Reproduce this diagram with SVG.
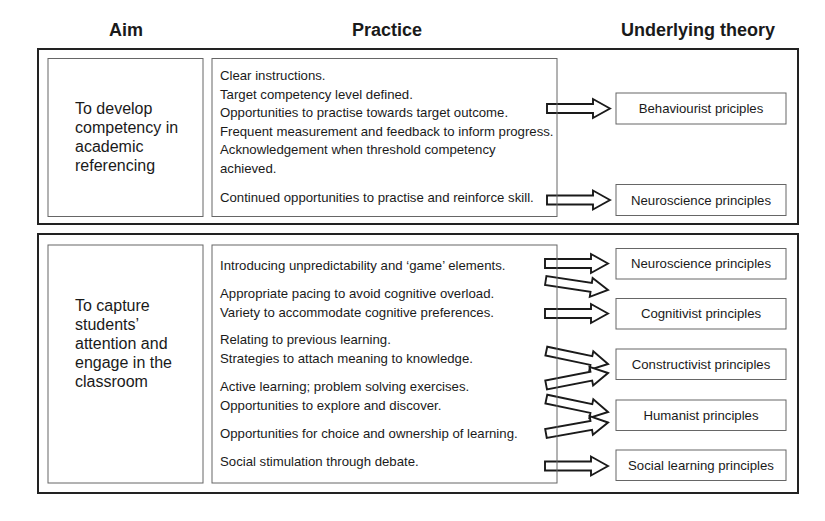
<svg xmlns="http://www.w3.org/2000/svg" xmlns:xlink="http://www.w3.org/1999/xlink" width="825" height="521" viewBox="0 0 825 521">
  <style>
    .hdr { font-family: "Liberation Sans", Arial, sans-serif; font-weight: bold; font-size: 18px; fill: #1a1a1a; text-anchor: middle; }
    .aim { font-family: "Liberation Sans", Arial, sans-serif; font-size: 16px; fill: #1a1a1a; }
    .txt { font-family: "Liberation Sans", Arial, sans-serif; font-size: 13.2px; fill: #1a1a1a; }
    .th  { font-family: "Liberation Sans", Arial, sans-serif; font-size: 13.2px; fill: #1a1a1a; text-anchor: middle; }
    .outer { fill: none; stroke: #222; stroke-width: 2; }
    .inner { fill: none; stroke: #666; stroke-width: 1; }
    .arrow { fill: #fff; stroke: #1a1a1a; stroke-width: 1.9; stroke-linejoin: miter; }
  </style>
  <defs>
    <!-- block arrow, tip at the origin, pointing along +x -->
    <path id="blockArrow" d="M0,0 L-17,-9.5 L-17,-4.5 L-63,-4.5 L-63,4.5 L-17,4.5 L-17,9.5 Z"/>
  </defs>

  <rect width="825" height="521" fill="#fff"/>

  <!-- column headings -->
  <g id="headings">
    <text class="hdr" x="126" y="36">Aim</text>
    <text class="hdr" x="387" y="36">Practice</text>
    <text class="hdr" x="698" y="36">Underlying theory</text>
  </g>

  <!-- connectors: block arrows from practice to theory -->
  <g id="connectors" class="arrow">
    <use xlink:href="#blockArrow" transform="translate(610,108.5)"/>
    <use xlink:href="#blockArrow" transform="translate(610,200)"/>

    <use xlink:href="#blockArrow" transform="translate(608,263.5)"/>
    <use xlink:href="#blockArrow" transform="translate(608,290) rotate(8.7)"/>
    <use xlink:href="#blockArrow" transform="translate(608,313.5)"/>
    <use xlink:href="#blockArrow" transform="translate(608,364) rotate(11.8)"/>
    <use xlink:href="#blockArrow" transform="translate(608,373) rotate(-10.9)"/>
    <use xlink:href="#blockArrow" transform="translate(608,412) rotate(11.8)"/>
    <use xlink:href="#blockArrow" transform="translate(608,422.5) rotate(-10)"/>
    <use xlink:href="#blockArrow" transform="translate(608,466)"/>
  </g>

  <!-- section 1: academic referencing -->
  <g id="section1">
    <rect class="outer" x="38" y="49" width="760" height="175"/>
  </g>
  <g id="aim1">
    <rect class="inner" x="48" y="58.5" width="155" height="158"/>
    <text class="aim">
      <tspan x="75" y="114">To develop</tspan>
      <tspan x="75" y="133">competency in</tspan>
      <tspan x="75" y="152">academic</tspan>
      <tspan x="75" y="171">referencing</tspan>
    </text>
  </g>
  <g id="practice1">
    <rect class="inner" x="212" y="58.5" width="345" height="158"/>
    <text class="txt">
      <tspan x="220" y="80">Clear instructions.</tspan>
      <tspan x="220" y="98.5">Target competency level defined.</tspan>
      <tspan x="220" y="117">Opportunities to practise towards target outcome.</tspan>
      <tspan x="220" y="135.5">Frequent measurement and feedback to inform progress.</tspan>
      <tspan x="220" y="154">Acknowledgement when threshold competency</tspan>
      <tspan x="220" y="172.5">achieved.</tspan>
      <tspan x="220" y="202">Continued opportunities to practise and reinforce skill.</tspan>
    </text>
  </g>
  <g id="behaviourist1">
    <rect class="inner" x="616" y="93" width="170" height="31"/>
    <text class="th" x="701" y="113">Behaviourist priciples</text>
  </g>
  <g id="neuroscience1">
    <rect class="inner" x="616" y="184.5" width="170" height="31"/>
    <text class="th" x="701" y="204.5">Neuroscience principles</text>
  </g>

  <!-- section 2: attention and engagement -->
  <g id="section2">
    <rect class="outer" x="38" y="234" width="760" height="259"/>
  </g>
  <g id="aim2">
    <rect class="inner" x="48" y="245" width="155" height="238"/>
    <text class="aim">
      <tspan x="75" y="311">To capture</tspan>
      <tspan x="75" y="330">students’</tspan>
      <tspan x="75" y="349">attention and</tspan>
      <tspan x="75" y="368">engage in the</tspan>
      <tspan x="75" y="387">classroom</tspan>
    </text>
  </g>
  <g id="practice2">
    <rect class="inner" x="212" y="245" width="345" height="238"/>
    <text class="txt">
      <tspan x="220" y="270">Introducing unpredictability and ‘game’ elements.</tspan>
      <tspan x="220" y="298">Appropriate pacing to avoid cognitive overload.</tspan>
      <tspan x="220" y="316.5">Variety to accommodate cognitive preferences.</tspan>
      <tspan x="220" y="344">Relating to previous learning.</tspan>
      <tspan x="220" y="362.5">Strategies to attach meaning to knowledge.</tspan>
      <tspan x="220" y="391">Active learning; problem solving exercises.</tspan>
      <tspan x="220" y="409.5">Opportunities to explore and discover.</tspan>
      <tspan x="220" y="438">Opportunities for choice and ownership of learning.</tspan>
      <tspan x="220" y="466">Social stimulation through debate.</tspan>
    </text>
  </g>
  <g id="neuroscience2">
    <rect class="inner" x="616" y="248.5" width="170" height="30.5"/>
    <text class="th" x="701" y="268">Neuroscience principles</text>
  </g>
  <g id="cognitivist">
    <rect class="inner" x="616" y="298.5" width="170" height="30.5"/>
    <text class="th" x="701" y="318">Cognitivist principles</text>
  </g>
  <g id="constructivist">
    <rect class="inner" x="616" y="349" width="170" height="30.5"/>
    <text class="th" x="701" y="368.5">Constructivist principles</text>
  </g>
  <g id="humanist">
    <rect class="inner" x="616" y="400" width="170" height="30.5"/>
    <text class="th" x="701" y="419.5">Humanist principles</text>
  </g>
  <g id="social">
    <rect class="inner" x="616" y="450" width="170" height="30.5"/>
    <text class="th" x="701" y="469.5">Social learning principles</text>
  </g>
</svg>
